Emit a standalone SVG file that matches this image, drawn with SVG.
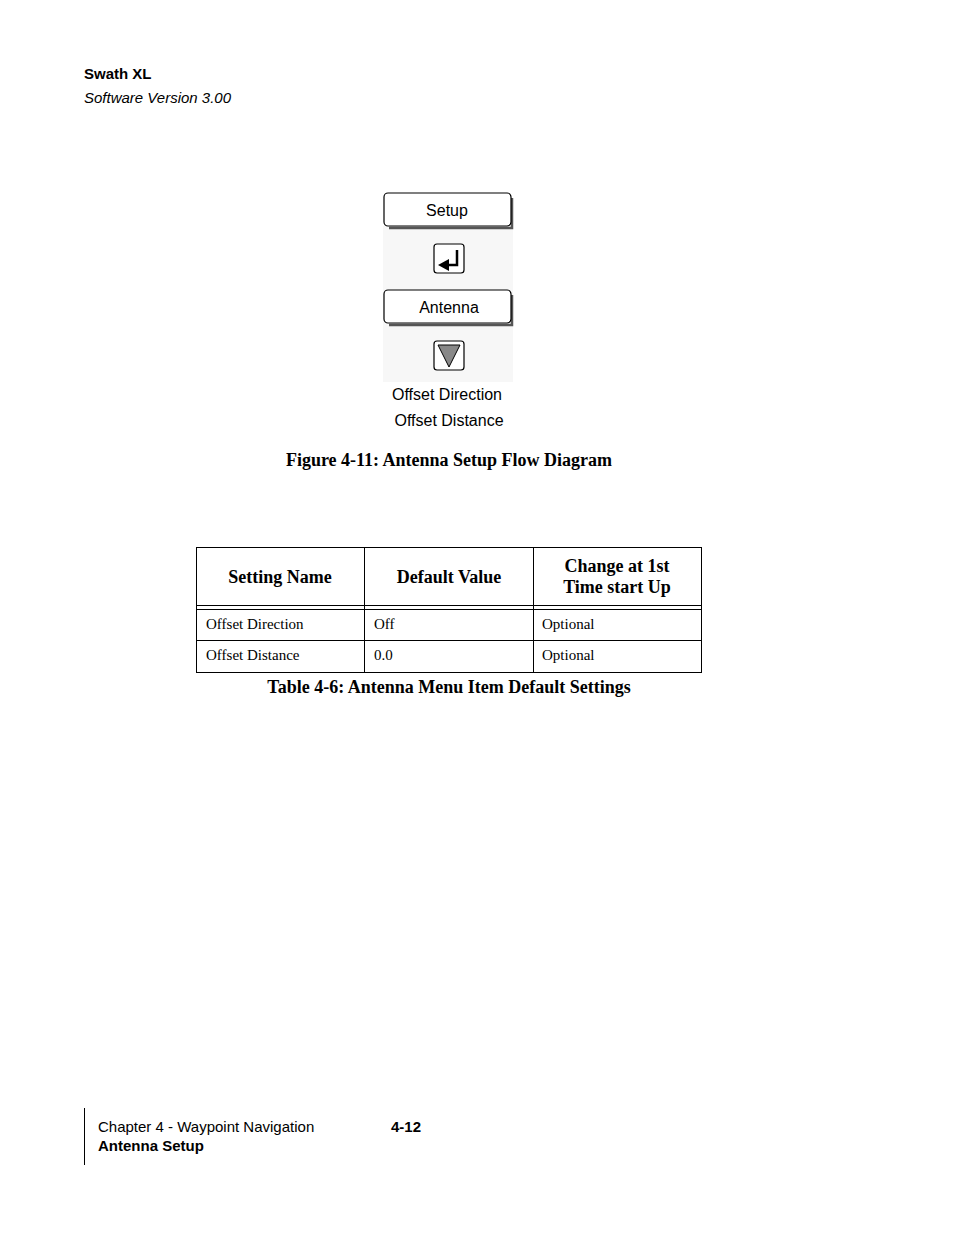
<svg xmlns="http://www.w3.org/2000/svg" width="954" height="1235" viewBox="0 0 954 1235">
<style>
.h{font-family:"Liberation Sans",Arial,sans-serif;font-size:15px;fill:#000}
.s{font-family:"Liberation Serif","Times New Roman",serif;fill:#000}
.btn{fill:#fff;stroke:#000;stroke-width:1.2}
.sh{fill:none;stroke:#555;stroke-width:2.5}
.bl{font-family:"Liberation Sans",Arial,sans-serif;font-size:16px;fill:#000;text-anchor:middle}
.ln{stroke:#000;stroke-width:1}
</style>
<rect width="954" height="1235" fill="#fff"/>
<text class="h" x="84" y="79" font-weight="bold">Swath XL</text>
<text class="h" x="84" y="103" font-style="italic">Software Version 3.00</text>
<rect x="383" y="226" width="130" height="156" fill="#f7f7f7"/>
<g id="setup"><path class="sh" d="M512 198 V228 H389"/><rect class="btn" x="384" y="193" width="127" height="33" rx="4"/><text class="bl" x="447" y="216">Setup</text></g>
<g id="enter"><rect class="btn" x="434" y="244" width="30" height="29" rx="3"/><path d="M457 250 V265 H448" stroke="#000" stroke-width="2.5" fill="none"/><polygon points="438,265 449,259 449,271" fill="#000"/></g>
<g id="antenna"><path class="sh" d="M512 295 V325 H389"/><rect class="btn" x="384" y="290" width="127" height="33" rx="4"/><text class="bl" x="449" y="313">Antenna</text></g>
<g id="down"><rect class="btn" x="434" y="341" width="30" height="29" rx="3"/><polygon points="438,345 460,345 449,367" fill="#888" stroke="#000"/></g>
<g id="items"><text class="bl" x="447" y="400">Offset Direction</text><text class="bl" x="449" y="426">Offset Distance</text></g>
<g id="connectors"/>
<text class="s" x="449" y="466" font-size="18" font-weight="bold" text-anchor="middle">Figure 4-11: Antenna Setup Flow Diagram</text>
<g id="table">
<rect x="196.5" y="547.5" width="505" height="125" fill="none" stroke="#000"/>
<line class="ln" x1="364.5" y1="547" x2="364.5" y2="672"/>
<line class="ln" x1="533.5" y1="547" x2="533.5" y2="672"/>
<line class="ln" x1="196" y1="605.5" x2="701" y2="605.5"/>
<line class="ln" x1="196" y1="609.5" x2="701" y2="609.5"/>
<line class="ln" x1="196" y1="640.5" x2="701" y2="640.5"/>
<g class="s" font-size="18" font-weight="bold" text-anchor="middle">
<text x="280" y="583">Setting Name</text><text x="449" y="583">Default Value</text>
<text x="617" y="572">Change at 1st</text><text x="617" y="593">Time start Up</text></g>
<g class="s" font-size="15">
<text x="206" y="629">Offset Direction</text><text x="374" y="629">Off</text><text x="542" y="629">Optional</text>
<text x="206" y="660">Offset Distance</text><text x="374" y="660">0.0</text><text x="542" y="660">Optional</text></g>
</g>
<text class="s" x="449" y="693" font-size="18" font-weight="bold" text-anchor="middle">Table 4-6: Antenna Menu Item Default Settings</text>
<line x1="84.5" y1="1108" x2="84.5" y2="1165" stroke="#000"/>
<text class="h" x="98" y="1132">Chapter 4 - Waypoint Navigation</text>
<text class="h" x="98" y="1151" font-weight="bold">Antenna Setup</text>
<text class="h" x="391" y="1132" font-weight="bold">4-12</text>
</svg>
